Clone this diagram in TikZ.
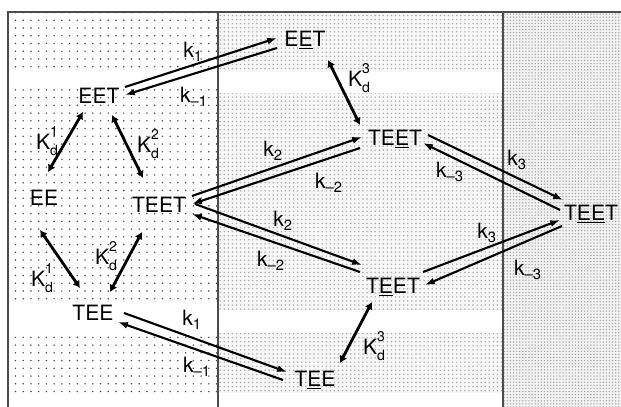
\documentclass[tikz,border=0pt]{standalone}
\usepackage{fontspec}
\setmainfont{TeX Gyre Heros}
\usetikzlibrary{arrows.meta,patterns.meta}
\newcommand{\Kd}[1]{K\rlap{\raisebox{0.62em}{\fontsize{10}{10}\selectfont #1}}\raisebox{-0.3em}{\fontsize{10}{10}\selectfont d}}

\begin{document}
\begin{tikzpicture}[x=0.025cm, y=-0.025cm,
    species/.style={font=\fontsize{15}{17}\selectfont, inner sep=1pt, text height=11pt, text depth=3pt},
    rate/.style={font=\fontsize{15}{17}\selectfont, inner sep=0pt},
    conv/.style={line width=1.5pt, -{Latex[length=7pt, width=5pt]}},
    diss/.style={line width=2pt, {Latex[length=5pt, width=6pt]}-{Latex[length=5pt, width=6pt]}},
    band/.style={fill=white, draw=none}
]

% Background
\useasboundingbox (0,0) rectangle (621,407);
\fill[pattern={Dots[radius=0.6pt, distance=5.5pt]}, pattern color=gray!60!black] (8,12) rectangle (218,407);
\fill[gray!6] (218,12) rectangle (503,407);
\fill[pattern={Dots[radius=0.6pt, distance=2.9pt]}, pattern color=gray!65] (218,12) rectangle (503,407);
\fill[gray!10] (503,12) rectangle (621,407);
\fill[pattern={Dots[radius=0.55pt, distance=2.2pt]}, pattern color=gray!70] (503,12) rectangle (621,407);
\fill[band] (8,72) rectangle (218,87);
\fill[band] (8,300) rectangle (218,333);
\fill[band] (8,393) rectangle (503,407);
\fill[band] (218,72) rectangle (503,93);
\fill[band] (218,310) rectangle (503,333);
\draw[gray!60!black, line width=0.8pt] (621,12) -- (8,12) -- (8,407);
\draw[gray!60!black, line width=0.8pt] (218,12) -- (218,407) (503,12) -- (503,407);

% Species
\node[species] (eeu) at (305,41) {E\underline{E}T};
\node[species] (eet) at (99,98) {EET};
\node[species] (ee) at (44,200) {EE};
\node[species] (teet) at (159,207) {TEET};
\node[species] (tee) at (93,315) {TEE};
\node[species] (teetu) at (395,140) {TE\underline{E}T};
\node[species] (teetr) at (591,215) {T\underline{EE}T};
\node[species] (teetb) at (393,288) {T\underline{E}ET};
\node[species] (teeb) at (315,381) {T\underline{E}E};

% Conversions
\draw[conv] ([shift={(26,-11)}]eet.center) -- ([shift={(-28,-3)}]eeu.center);
\draw[conv] ([shift={(-28,7)}]eeu.center) -- ([shift={(26,-3)}]eet.center);
\draw[conv] ([shift={(33,-11)}]teet.center) -- ([shift={(-33,-3)}]teetu.center);
\draw[conv] ([shift={(-35,8)}]teetu.center) -- ([shift={(33,-3)}]teet.center);
\draw[conv] ([shift={(36,-3)}]teet.center) -- ([shift={(-31,-23)}]teetb.center);
\draw[conv] ([shift={(-33,-16)}]teetb.center) -- ([shift={(33,7)}]teet.center);
\draw[conv] ([shift={(33,-5)}]teetu.center) -- ([shift={(-28,-15)}]teetr.center);
\draw[conv] ([shift={(-31,-5)}]teetr.center) -- ([shift={(28,3)}]teetu.center);
\draw[conv] ([shift={(30,-16)}]teetb.center) -- ([shift={(-31,5)}]teetr.center);
\draw[conv] ([shift={(-29,11)}]teetr.center) -- ([shift={(32,-3)}]teetb.center);
\draw[conv] ([shift={(31,-2)}]tee.center) -- ([shift={(-28,-9)}]teeb.center);
\draw[conv] ([shift={(-32,-1)}]teeb.center) -- ([shift={(25,7)}]tee.center);

% Dissociations
\draw[diss] ([shift={(-16,14)}]eet.center) -- ([shift={(4,-28)}]ee.center);
\draw[diss] ([shift={(13,17)}]eet.center) -- ([shift={(-16,-29)}]teet.center);
\draw[diss] ([shift={(-4,30)}]ee.center) -- ([shift={(-13,-27)}]tee.center);
\draw[diss] ([shift={(-17,25)}]teet.center) -- ([shift={(17,-23)}]tee.center);
\draw[diss] ([shift={(23,19)}]eeu.center) -- ([shift={(-35,-15)}]teetu.center);
\draw[diss] ([shift={(-21,14)}]teetb.center) -- ([shift={(25,-18)}]teeb.center);

% Rate labels
\node[rate] (k1a) at (193,52) {k\textsubscript{1}};
\node[rate] (km1a) at (194,97) {k\textsubscript{–1}};
\node[rate] (k2a) at (273,151) {k\textsubscript{2}};
\node[rate] (km2a) at (329,183) {k\textsubscript{–2}};
\node[rate] (k2b) at (283,221) {k\textsubscript{2}};
\node[rate] (km2b) at (271,261) {k\textsubscript{–2}};
\node[rate] (k3a) at (517,160) {k\textsubscript{3}};
\node[rate] (km3a) at (450,172) {k\textsubscript{–3}};
\node[rate] (k3b) at (487,233) {k\textsubscript{3}};
\node[rate] (km3b) at (528,270) {k\textsubscript{–3}};
\node[rate] (k1b) at (192,320) {k\textsubscript{1}};
\node[rate] (km1b) at (197,367) {k\textsubscript{–1}};
\node[rate] (kd1a) at (47,141) {\Kd{1}};
\node[rate] (kd2a) at (148,144) {\Kd{2}};
\node[rate] (kd1b) at (42,278) {\Kd{1}};
\node[rate] (kd2b) at (106,256) {\Kd{2}};
\node[rate] (kd3a) at (359,78) {\Kd{3}};
\node[rate] (kd3b) at (374,346) {\Kd{3}};

\end{tikzpicture}
\end{document}
